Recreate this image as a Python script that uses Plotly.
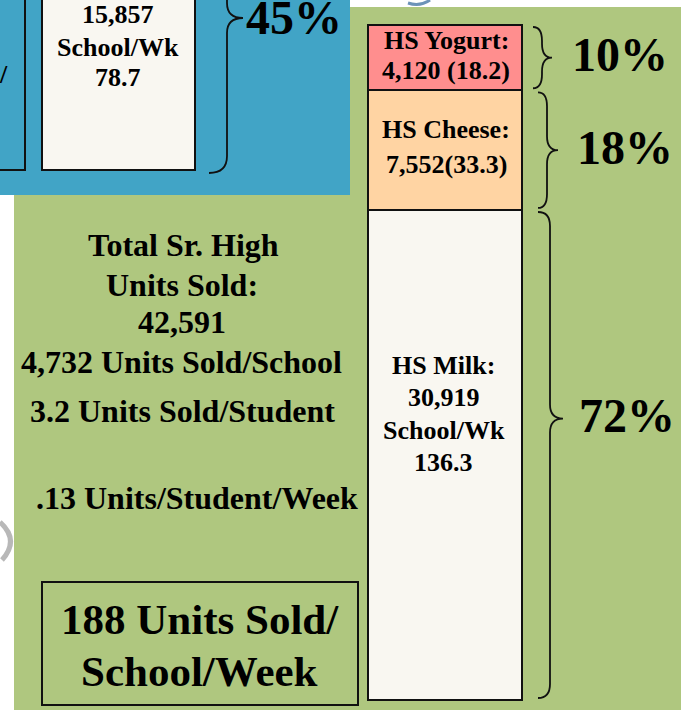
import plotly.graph_objects as go

W, H = 687, 710

# stacked column, bottom to top
products = ['HS Milk', 'HS Cheese', 'HS Yogurt']
units = [30919, 7552, 4120]
per_school = ['136.3', '33.3', '18.2']
shares = ['72%', '18%', '10%']
box_colors = ['#F9F7F1', '#FFD4A3', '#FF8E8E']

total_units = 42591
summary_lines = ['Total Sr. High', 'Units Sold:', '42,591',
                 '4,732 Units Sold/School', '3.2 Units Sold/Student',
                 '.13 Units/Student/Week']
footer_lines = ['188 Units Sold/', 'School/Week']
other_lines = ['15,857', 'School/Wk', '78.7']
other_share = '45%'

GREEN = '#AFC77F'
BLUE = '#41A4C6'
INK = '#111111'
FONT = 'Liberation Serif'


def P(x, y):
    return x / W, 1 - y / H


def text(fig, s, x, y, size):
    px_, py_ = P(x, y)
    fig.add_annotation(x=px_, y=py_, xref='paper', yref='paper', text='<b>' + s + '</b>',
                       showarrow=False, xanchor='center', yanchor='middle',
                       font=dict(family=FONT, size=size, color='black'))


def rect(fig, x0, y0, x1, y1, fill, line_w=0, layer='below'):
    a, b = P(x0, y0)
    c, d = P(x1, y1)
    fig.add_shape(type='rect', xref='paper', yref='paper', x0=a, y0=b, x1=c, y1=d,
                  fillcolor=fill, line=dict(color=INK, width=line_w), layer=layer)


def pix_path(pts_cmd):
    # build an svg path in paper units from pixel coords
    out = []
    for item in pts_cmd:
        if isinstance(item, str):
            out.append(item)
        else:
            a, b = P(*item)
            out.append(f'{a:.5f},{b:.5f}')
    return ' '.join(out)


# pixel <-> units for the bar axis
bar_top_px, bar_bot_px = 25, 700
upp = total_units / (bar_bot_px - bar_top_px)
y_range = [-(H - bar_bot_px) * upp, total_units + bar_top_px * upp]

fig = go.Figure()

base = 0
for name, u, c in zip(products, units, box_colors):
    fig.add_trace(go.Bar(x=[445], y=[u], base=[base], width=[154], name=name,
                         marker=dict(color=c, line=dict(color=INK, width=2)),
                         hoverinfo='skip'))
    base += u

# background panels
rect(fig, 14, 7, 681, 720, GREEN)
rect(fig, -5, -5, 350, 195, BLUE)

# boxes in the blue panel
rect(fig, -5, -5, 25, 170, BLUE, 2, 'above')
rect(fig, 42, -5, 195, 170, '#F9F7F1', 2, 'above')
for s, y in zip(other_lines, [15, 47, 78]):
    text(fig, s, 118, y, 26)
text(fig, '/', 3, 75, 26)

# blue panel brace
fig.add_shape(type='path', xref='paper', yref='paper', layer='above',
              path=pix_path(['M', (209, -25), 'Q', (227, -25), (227, -8), 'L', (227, 3),
                             'Q', (227, 18), (243, 18), 'Q', (227, 18), (227, 33),
                             'L', (227, 156), 'Q', (227, 173), (209, 173)]),
              line=dict(color=INK, width=1.8))
text(fig, other_share, 294, 18, 48)

# braces next to each segment, drawn in data units
brace_x = [(538, 550, 563), (538, 547, 558), (533, 542, 552)]
tip_frac = [0.575, 0.5, 0.5]
share_x = [627, 625, 620]
r = 14 * upp
base = 0
for u, (x0, xm, xt), f, s, sx in zip(units, brace_x, tip_frac, shares, share_x):
    yb, yt = base + 0.003 * total_units, base + u - 0.003 * total_units
    ym = yb + (yt - yb) * f
    path = (f'M {x0},{yt} Q {xm},{yt} {xm},{yt - r} L {xm},{ym + r} '
            f'Q {xm},{ym} {xt},{ym} Q {xm},{ym} {xm},{ym - r} '
            f'L {xm},{yb + r} Q {xm},{yb} {x0},{yb}')
    fig.add_shape(type='path', xref='x', yref='y', path=path, layer='above',
                  line=dict(color=INK, width=1.8))
    ym_px = bar_bot_px - ym / upp
    text(fig, s, sx, ym_px - 3, 48)
    base += u

# labels inside the column
text(fig, 'HS Yogurt:', 446, 40, 26)
text(fig, f'{units[2]:,} ({per_school[2]})', 446, 71, 26)
text(fig, 'HS Cheese:', 446, 130, 26)
text(fig, f'{units[1]:,}({per_school[1]})', 446, 164, 26)
milk_lines = ['HS Milk:', f'{units[0]:,}', 'School/Wk', per_school[0]]
for s, y in zip(milk_lines, [365, 397, 430, 462]):
    text(fig, s, 444, y, 26)

# summary text on the left
for s, x, y in zip(summary_lines, [183, 182, 182, 181, 182, 197],
                   [245, 285, 322, 362, 411, 498]):
    text(fig, s, x, y, 32)

rect(fig, 42, 582, 358, 705, GREEN, 2, 'above')
for s, y in zip(footer_lines, [619, 671]):
    text(fig, s, 200, y, 43)

# little grey swirls cut off at the edges
fig.add_shape(type='path', xref='paper', yref='paper', layer='above',
              path=pix_path(['M', (0, 522), 'Q', (20, 540), (2, 560)]),
              line=dict(color='#B8B8B8', width=5))
fig.add_shape(type='path', xref='paper', yref='paper', layer='above',
              path=pix_path(['M', (408, 3), 'Q', (420, 7), (430, 0)]),
              line=dict(color='#6C93B8', width=3))

fig.update_layout(
    width=W, height=H, autosize=False,
    margin=dict(l=0, r=0, t=0, b=0, pad=0),
    paper_bgcolor='white', plot_bgcolor='white',
    barmode='overlay', showlegend=False, bargap=0,
    xaxis=dict(range=[0, W], visible=False, fixedrange=True),
    yaxis=dict(range=y_range, visible=False, fixedrange=True),
)

fig.write_html("out.html", config={'displayModeBar': False},
               post_script="document.body.style.margin='0';")
